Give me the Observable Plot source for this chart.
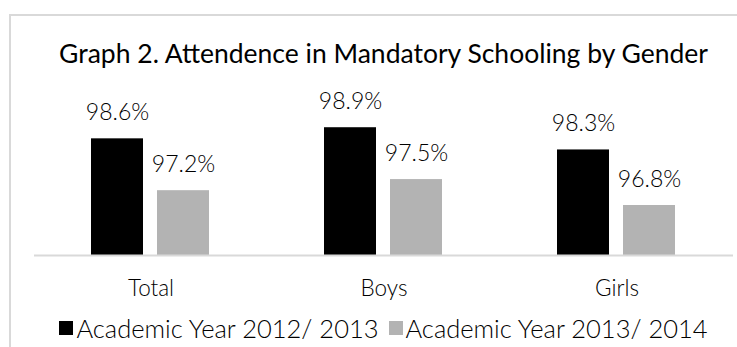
<!DOCTYPE html>
<html>
<head>
<meta charset="utf-8">
<script src="https://cdn.jsdelivr.net/npm/d3@7"></script>
<script src="https://cdn.jsdelivr.net/npm/@observablehq/plot@0.6"></script>
<style>
  html, body { margin: 0; padding: 0; background: #fff; }
  #wrap { position: relative; width: 737px; height: 347px; overflow: hidden; font-family: Lato, "Open Sans", sans-serif; color: #000; }
  #frame { position: absolute; left: 9px; top: 14px; width: 740px; height: 400px; border-left: 2px solid #d9d9d9; border-top: 2px solid #d9d9d9; }
  #title { position: absolute; left: 34px; width: 699px; top: 41px; text-align: center; font-size: 26.5px; line-height: 25px; font-weight: 400; white-space: nowrap; }
  #chart { position: absolute; left: 0; top: 75px; }
  #legend { position: absolute; left: 34px; width: 699px; top: 316px; display: flex; justify-content: center; align-items: center; font-size: 25.5px; line-height: 24px; font-weight: 300; white-space: nowrap; }
  #legend .item { display: flex; align-items: center; margin: 0 5px; }
  #legend .sw { width: 14px; height: 14px; margin-right: 3px; display: inline-block; }
</style>
</head>
<body>
<div id="wrap">
  <div id="frame"></div>
  <div id="title"></div>
  <div id="chart"></div>
  <div id="legend"></div>
</div>
<script>
const title = "Graph 2. Attendence in Mandatory Schooling by Gender";
const categories = ["Total", "Boys", "Girls"];
const seriesNames = ["Academic Year 2012/ 2013", "Academic Year 2013/ 2014"];
const values2012 = [98.6, 98.9, 98.3];
const values2013 = [97.2, 97.5, 96.8];
const seriesColors = ["#000000", "#b3b3b3"];
const yMin = 95.45;
const yMax = 99.5;

const data = [];
categories.forEach((c, i) => {
  data.push({category: c, series: seriesNames[0], value: values2012[i]});
  data.push({category: c, series: seriesNames[1], value: values2013[i]});
});

document.getElementById("title").textContent = title;

const chart = Plot.plot({
  width: 737,
  height: 232,
  marginLeft: 34,
  marginRight: 4,
  marginTop: 30,
  marginBottom: 52,
  style: {fontFamily: "Lato, 'Open Sans', sans-serif", background: "transparent", color: "#000"},
  fx: {domain: categories, padding: 0, label: null},
  x: {domain: seriesNames, paddingInner: 0.212, paddingOuter: 0.871, axis: null},
  y: {domain: [yMin, yMax], axis: null},
  color: {domain: seriesNames, range: seriesColors},
  marks: [
    Plot.barY(data, {fx: "category", x: "series", y1: yMin, y2: "value", fill: "series"}),
    Plot.ruleY([yMin], {stroke: "#d9d9d9", strokeWidth: 2}),
    Plot.text(data, {fx: "category", x: "series", y: "value", text: d => d.value.toFixed(1) + "%", lineAnchor: "bottom", dy: -19, fontSize: 23, fontWeight: 300, fill: "#000"}),
    Plot.axisFx({anchor: "bottom", tickSize: 0, tickPadding: 25, fontSize: 22.5, fontWeight: 300, label: null, fill: "#000"})
  ]
});
document.getElementById("chart").appendChild(chart);

const legend = document.getElementById("legend");
seriesNames.forEach((name, i) => {
  const item = document.createElement("span");
  item.className = "item";
  const sw = document.createElement("span");
  sw.className = "sw";
  sw.style.background = seriesColors[i];
  item.appendChild(sw);
  item.appendChild(document.createTextNode(name));
  legend.appendChild(item);
});
</script>
</body>
</html>
